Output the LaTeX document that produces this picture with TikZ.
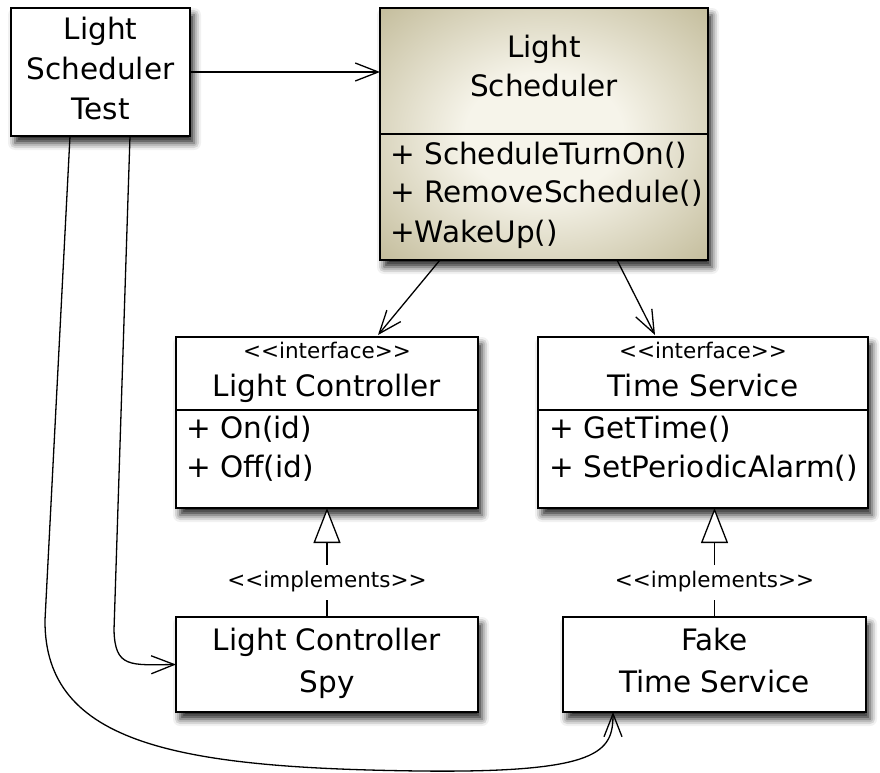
\documentclass[tikz,border=0pt]{standalone}
\usepackage{fontspec}
\setmainfont{DejaVu Sans}[Ligatures=TeXOff]
\usetikzlibrary{arrows.meta,calc,shadows.blur}
\definecolor{lsin}{RGB}{246,244,234}
\definecolor{lsout}{RGB}{165,155,108}
\pgfdeclareradialshading{lsshade}{\pgfpoint{0bp}{0bp}}{color(0bp)=(lsin); color(12bp)=(lsin); color(50bp)=(lsout)}
\begin{document}
\begin{tikzpicture}[x=1pt,y=-1pt,
  box/.style={draw, line width=1.5pt, fill=white, rectangle, inner sep=0pt, outer sep=0pt, anchor=north west,
    blur shadow={shadow xshift=4pt, shadow yshift=-7pt, shadow blur radius=7pt, shadow opacity=85}},
  big/.style={inner sep=0pt, font=\fontsize{29.5}{34}\selectfont},
  small/.style={inner sep=0pt, font=\fontsize{21.5}{25}\selectfont},
  dep/.style={line width=1.3pt, -{Straight Barb[length=23pt,width=18pt,line width=1.3pt]}},
  real/.style={line width=1.3pt, -{Triangle[length=35pt,width=27pt,fill=white,line width=1.3pt]}},
  div/.style={line width=1.5pt}
]
\useasboundingbox (0,0) rectangle (880,773);

% boxes
\node[box, minimum width=179pt, minimum height=128pt] (lst) at (11,8) {};
\node[box, minimum width=328pt, minimum height=252pt, shading=lsshade] (ls) at (380,8) {};
\node[box, minimum width=302pt, minimum height=171pt] (lc) at (176,337) {};
\node[box, minimum width=330pt, minimum height=171pt] (ts) at (538,337) {};
\node[box, minimum width=302pt, minimum height=95pt] (lcs) at (176,617) {};
\node[box, minimum width=303pt, minimum height=95pt] (fts) at (563,617) {};

% dividers
\draw[div] (ls.west |- 0,134) -- (ls.east |- 0,134);
\draw[div] (lc.west |- 0,410) -- (lc.east |- 0,410);
\draw[div] (ts.west |- 0,410) -- (ts.east |- 0,410);

% texts: Light Scheduler Test
\node[big, anchor=base] (lst1) at (100.5,40) {Light};
\node[big, anchor=base] (lst2) at (100.5,80) {Scheduler};
\node[big, anchor=base] (lst3) at (100.5,120) {Test};
% Light Scheduler
\node[big, anchor=base] (ls1) at (544,58) {Light};
\node[big, anchor=base] (ls2) at (544,97) {Scheduler};
\node[big, anchor=base west] (ls3) at (390,164) {+ ScheduleTurnOn()};
\node[big, anchor=base west] (ls4) at (390,202) {+ RemoveSchedule()};
\node[big, anchor=base west] (ls5) at (390,242) {+WakeUp()};
% Light Controller
\node[small, anchor=base] (lc1) at (327,358) {<<interface>>};
\node[big, anchor=base] (lc2) at (327,396) {Light Controller};
\node[big, anchor=base west] (lc3) at (186,438) {+ On(id)};
\node[big, anchor=base west] (lc4) at (186,477) {+ Off(id)};
% Time Service
\node[small, anchor=base] (ts1) at (703,358) {<<interface>>};
\node[big, anchor=base] (ts2) at (703,396) {Time Service};
\node[big, anchor=base west] (ts3) at (549,438) {+ GetTime()};
\node[big, anchor=base west] (ts4) at (549,477) {+ SetPeriodicAlarm()};
% Spy / Fake
\node[big, anchor=base] (lcs1) at (327,650) {Light Controller};
\node[big, anchor=base] (lcs2) at (327,692) {Spy};
\node[big, anchor=base] (fts1) at (714.5,650) {Fake};
\node[big, anchor=base] (fts2) at (714.5,692) {Time Service};

% implements labels
\node[small] (im1) at (327,582) {<<implements>>};
\node[small] (im2) at (714.5,582) {<<implements>>};

% connectors
\draw[dep] (lst.east) -- (ls.west |- lst.east);
\draw[dep] ($(ls.south west)+(60,0)$) -- ($(lc.north west)+(202,-2)$);
\draw[dep] ($(ls.south west)+(237,0)$) -- ($(ts.north west)+(117,-2)$);

\draw[line width=1.3pt] (lcs.north) -- ($(im1.center)+(0,18)$);
\draw[real] ($(im1.center)+(0,-17)$) -- (lc.south);
\draw[line width=1.3pt] (fts.north) -- ($(im2.center)+(0,18)$);
\draw[real] ($(im2.center)+(0,-17)$) -- (im2.center |- ts.south);

\draw[dep] ($(lst.south west)+(119,0)$) -- (114,630) .. controls (115,668) and (130,665) .. (lcs.west);
\draw[dep] ($(lst.south west)+(59,0)$) -- (45,620) .. controls (44,745) and (180,768) .. (420,771) .. controls (600,773) and (613,752) .. ($(fts.south west)+(50,0)$);
\end{tikzpicture}
\end{document}
